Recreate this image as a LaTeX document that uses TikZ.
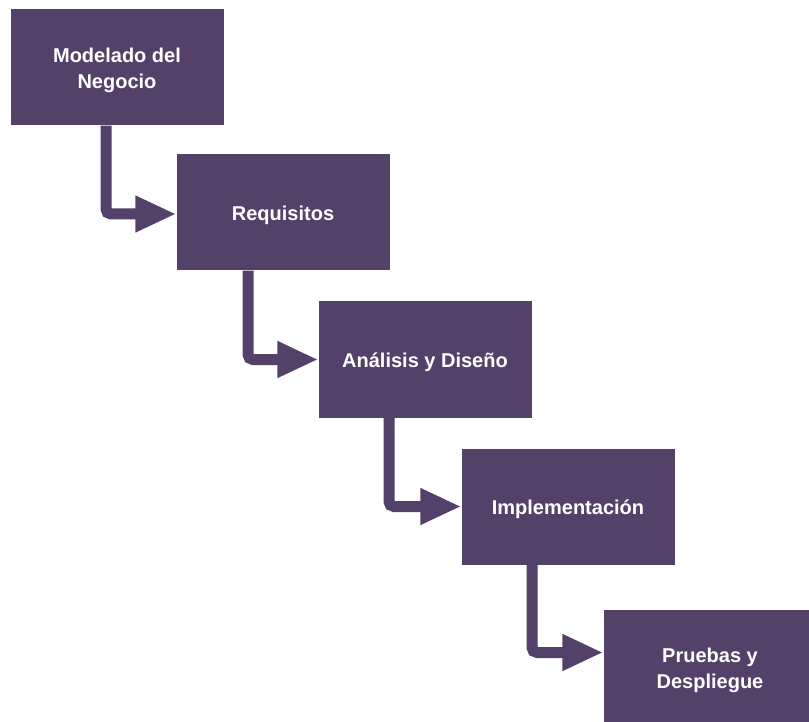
\documentclass[tikz,border=0pt]{standalone}
\usepackage{fontspec}
\setmainfont{Liberation Sans}
\usetikzlibrary{arrows.meta}
\definecolor{phase}{RGB}{84,65,106}
\newcommand{\phasetext}[1]{\raisebox{-3pt}[\height][\depth]{\begin{tabular}{@{}c@{}}#1\end{tabular}}}
\tikzset{
  phasebox/.style={fill=phase, draw=none, minimum width=213pt, minimum height=116pt,
    inner sep=0pt, text=white, font=\fontsize{20}{26}\selectfont\bfseries},
  flow/.style={draw=phase, line width=11pt, rounded corners=5pt,
    -{Triangle[length=41pt,width=34pt]}}
}
\begin{document}
\begin{tikzpicture}[x=1pt,y=-1pt]
\useasboundingbox (0,0) rectangle (809,722);
\node[phasebox] (b1) at (117,67.5) {\phasetext{Modelado del\\Negocio}};
\node[phasebox] (b2) at (283,212.5) {\phasetext{Requisitos}};
\node[phasebox] (b3) at (425,359.5) {\phasetext{Análisis y Diseño}};
\node[phasebox] (b4) at (568,506.5) {\phasetext{Implementación}};
\node[phasebox] (b5) at (710,667.5) {\phasetext{Pruebas y\\Despliegue}};
\draw[flow] ([xshift=-11pt]b1.south) |- ([yshift=-1.5pt]b2.west);
\draw[flow] ([xshift=-35pt]b2.south) |- (b3.west);
\draw[flow] ([xshift=-36pt]b3.south) |- (b4.west);
\draw[flow] ([xshift=-36pt]b4.south) |- ([yshift=15pt]b5.west);
\end{tikzpicture}
\end{document}
